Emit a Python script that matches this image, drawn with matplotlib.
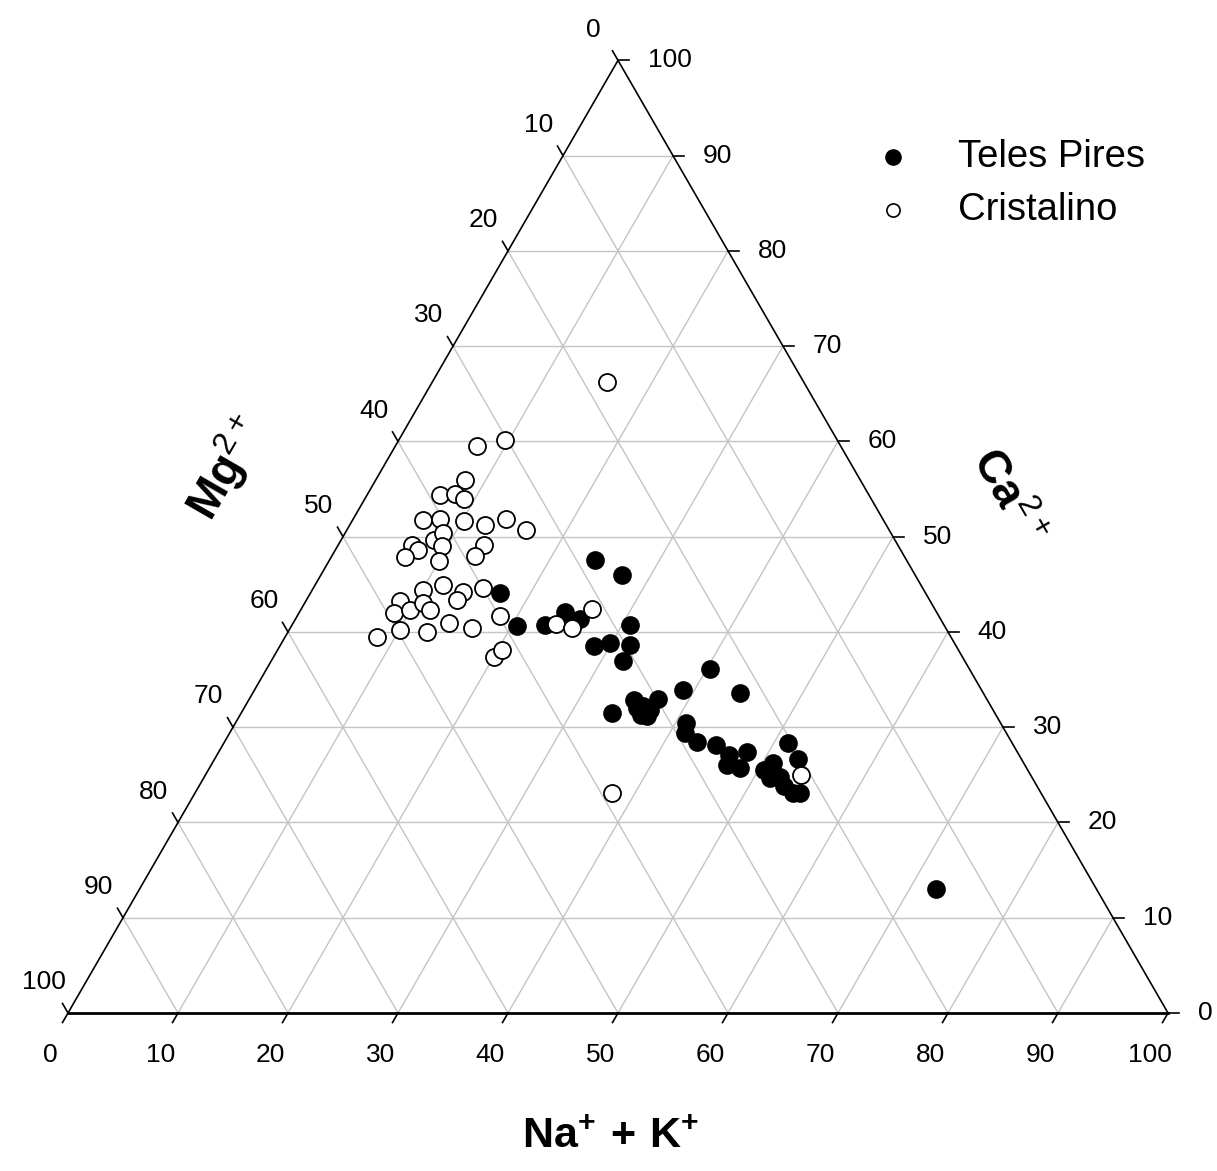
import numpy as np
import matplotlib
matplotlib.use('Agg')
import matplotlib.pyplot as plt

plt.rcParams['font.family'] = ['Liberation Sans', 'DejaVu Sans']
plt.rcParams['mathtext.fontset'] = 'custom'
plt.rcParams['mathtext.rm'] = 'Liberation Sans'
plt.rcParams['mathtext.bf'] = 'Liberation Sans:bold'

# percentages (Ca2+, Na+ + K+, Mg2+)
tp_ca = [44.1, 40.6, 40.7, 47.6, 46.0, 42.1, 41.4, 40.7, 38.5, 38.8, 38.6, 36.9,
         31.5, 32.9, 32.2, 33.0, 31.8, 31.3, 32.0, 31.2, 36.1, 33.9, 33.6, 30.4,
         29.4, 28.5, 28.1, 27.1, 27.4, 26.0, 25.7, 25.5, 26.2, 28.3, 26.7, 24.8,
         23.1, 23.1, 23.8, 24.7, 13.0]
tp_nak = [17.2, 20.5, 23.0, 24.1, 27.4, 24.1, 25.8, 30.7, 28.6, 29.9, 31.8, 32.0,
          33.7, 35.0, 36.2, 37.1, 37.0, 36.4, 35.7, 37.0, 40.3, 39.0, 44.3, 41.0,
          41.4, 42.9, 44.9, 46.5, 48.0, 46.9, 48.2, 50.5, 51.0, 51.3, 53.0, 52.3,
          54.4, 55.0, 53.2, 51.5, 72.4]
tp_mg = [38.7, 38.9, 36.3, 28.3, 26.6, 33.8, 32.8, 28.6, 32.9, 31.3, 29.6, 31.1,
         34.8, 32.1, 31.6, 29.9, 31.2, 32.3, 32.3, 31.8, 23.6, 27.1, 22.1, 28.6,
         29.2, 28.6, 27.0, 26.4, 24.6, 27.1, 26.1, 24.0, 22.8, 20.4, 20.3, 22.9,
         22.5, 21.9, 23.0, 23.8, 14.6]

cr_ca = [66.2, 59.5, 60.1, 56.0, 54.4, 54.5, 54.0, 51.8, 51.9, 51.6, 51.2, 51.9,
         50.7, 49.1, 48.6, 47.9, 49.7, 50.4, 49.0, 47.4, 49.1, 48.0, 44.4, 44.9,
         44.2, 43.4, 44.6, 43.2, 42.0, 42.3, 43.0, 42.3, 40.2, 39.5, 40.0, 40.9,
         40.4, 41.7, 37.4, 38.1, 42.4, 40.8, 40.4, 23.1, 25.0]
cr_nak = [15.9, 7.4, 9.7, 8.1, 6.6, 7.9, 9.0, 6.4, 7.9, 10.2, 12.3, 13.9,
          16.3, 6.7, 7.5, 6.7, 8.4, 8.9, 9.5, 10.0, 13.3, 13.0, 10.1, 11.6,
          13.8, 13.7, 15.4, 8.6, 8.6, 9.9, 10.8, 11.8, 10.1, 8.3, 12.6, 14.2,
          16.5, 18.4, 20.0, 20.4, 26.4, 24.0, 25.6, 37.9, 54.1]
cr_mg = [17.9, 33.1, 30.2, 35.9, 39.0, 37.6, 37.0, 41.8, 40.2, 38.2, 36.5, 34.2,
         33.0, 44.2, 43.9, 45.4, 41.9, 40.7, 41.5, 42.6, 37.6, 39.0, 45.5, 43.5,
         42.0, 42.9, 40.0, 48.2, 49.4, 47.8, 46.2, 45.9, 49.7, 52.2, 47.4, 44.9,
         43.1, 39.9, 42.6, 41.5, 31.2, 35.2, 34.0, 39.0, 20.9]

ticks = list(range(0, 101, 10))
H = np.sqrt(3) / 2


def tern(nak, ca, mg):
    nak = np.asarray(nak, float)
    ca = np.asarray(ca, float)
    tot = nak + ca + np.asarray(mg, float)
    nak, ca = 100 * nak / tot, 100 * ca / tot
    return nak + ca / 2, ca * H


fig = plt.figure(figsize=(12.17, 11.71), dpi=100)
ax = fig.add_axes([0, 0, 1, 1])
ax.set_xlim(-68 / 11, (1217 - 68) / 11)
ax.set_ylim(-158 / 11, (1171 - 158) / 11)
ax.axis('off')

# grid
gc = '#c4c4c4'
for v in ticks[1:-1]:
    # constant Ca (horizontal)
    x, y = tern([0, 100 - v], [v, v], [100 - v, 0])
    ax.plot(x, y, color=gc, lw=1, zorder=1)
    # constant Na+K
    x, y = tern([v, v], [0, 100 - v], [100 - v, 0])
    ax.plot(x, y, color=gc, lw=1, zorder=1)
    # constant Mg
    x, y = tern([0, 100 - v], [100 - v, 0], [v, v])
    ax.plot(x, y, color=gc, lw=1, zorder=1)

# frame
x, y = tern([0, 100], [0, 0], [100, 0])
ax.plot(x, y, color='black', lw=2, zorder=2)
x, y = tern([0, 0, 100], [0, 100, 0], [100, 0, 0])
ax.plot(x, y, color='black', lw=1.2, zorder=2)

tl = 1.0
fs = 19
for v in ticks:
    # bottom: Na+K
    x, y = tern([v], [0], [100 - v])
    ax.plot([x[0], x[0] - tl * 0.5], [0, -tl * H], color='black', lw=1.2)
    ax.text(x[0] - 1.6, -3.8, str(v), fontsize=fs, ha='center', va='center')
    # right: Ca
    x, y = tern([100 - v], [v], [0])
    ax.plot([x[0], x[0] + tl], [y[0], y[0]], color='black', lw=1.2)
    ax.text(x[0] + 2.7, y[0], str(v), fontsize=fs, ha='left', va='center')
    # left: Mg
    x, y = tern([0], [100 - v], [v])
    ax.plot([x[0], x[0] - tl * 0.5], [y[0], y[0] + tl * H], color='black', lw=1.2)
    ax.text(x[0] - 2.2, y[0] + 2.8, str(v), fontsize=fs, ha='center', va='center')

x, y = tern(tp_nak, tp_ca, tp_mg)
ax.scatter(x, y, s=150, facecolor='black', edgecolor='black', lw=1.2, zorder=3)
x, y = tern(cr_nak, cr_ca, cr_mg)
ax.scatter(x, y, s=150, facecolor='white', edgecolor='black', lw=1.3, zorder=4)

ax.text(49.3, -11.3, r'$\mathbf{Na}^{\mathbf{+}}\ \mathbf{+\ K}^{\mathbf{+}}$', fontsize=31,
        ha='center', va='center')
ax.text(14.4, 49.6, r'$\mathbf{Mg}^{\mathrm{2+}}$', fontsize=33, rotation=60,
        ha='center', va='center', rotation_mode='anchor')
ax.text(85.3, 46.9, r'$\mathbf{Ca}^{\mathrm{2+}}$', fontsize=33, rotation=-60,
        ha='center', va='center', rotation_mode='anchor')

# legend
ax.scatter([], [], s=120, facecolor='black', edgecolor='black', label='Teles Pires')
ax.scatter([], [], s=90, facecolor='white', edgecolor='black', lw=1.2, label='Cristalino')
ax.legend(loc='center left', bbox_to_anchor=(0.69, 0.843), bbox_transform=fig.transFigure,
          frameon=False, fontsize=27.5, handletextpad=1.2, labelspacing=0.45,
          scatterpoints=1, handlelength=1.0)

fig.savefig('out.png', dpi=100)
